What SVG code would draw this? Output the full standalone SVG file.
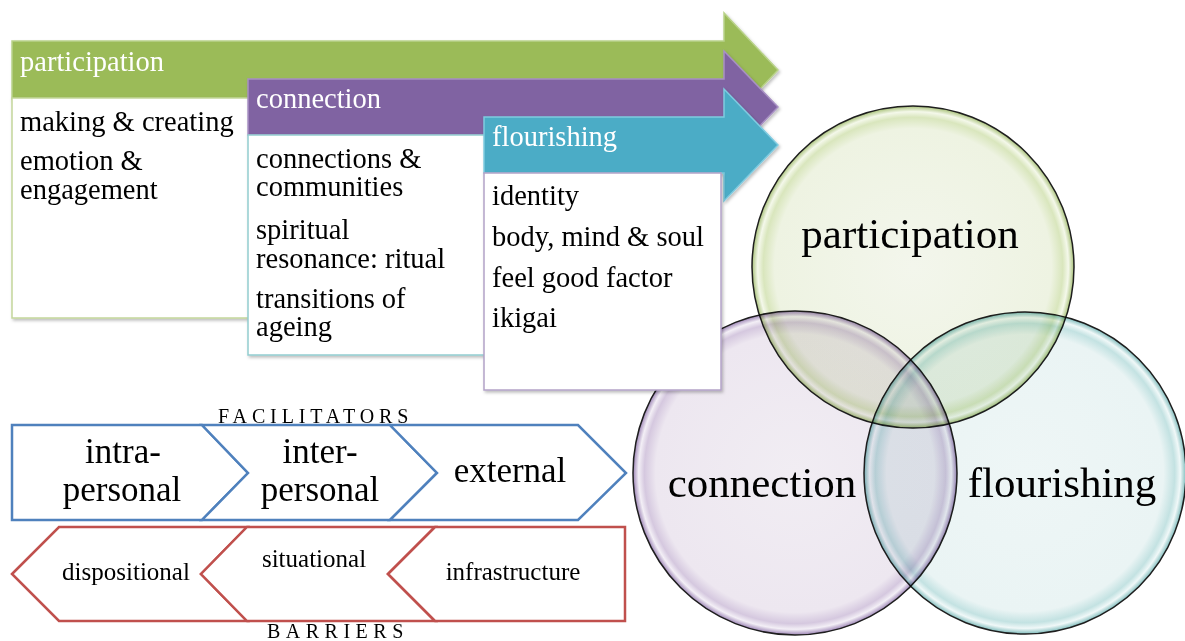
<svg xmlns="http://www.w3.org/2000/svg" width="1185" height="641" viewBox="0 0 1185 641">
<style>
text{font-family:"Liberation Serif","Times New Roman",serif;}
.hd{fill:#ffffff;font-size:28.5px;}
.bd{fill:#000000;font-size:28.5px;}
.vn{fill:#000000;font-size:43px;text-anchor:middle;}
.fc{fill:#000000;font-size:35px;text-anchor:middle;}
.br{fill:#000000;font-size:25px;text-anchor:middle;}
.cap{fill:#000000;font-size:20px;}
.blue{fill:#ffffff;stroke:#4f81bd;stroke-width:2.5;stroke-linejoin:miter;}
.red{fill:#ffffff;stroke:#c0504d;stroke-width:2.5;stroke-linejoin:miter;}
.circ{stroke:#1e1e1e;stroke-width:1.5;mix-blend-mode:multiply;}
.box{fill:#ffffff;stroke-width:1.5;}
</style>
<defs>
<filter id="sh" x="-5%" y="-5%" width="115%" height="115%">
<feDropShadow dx="1.5" dy="2" stdDeviation="1.5" flood-color="#000" flood-opacity="0.25"/>
</filter>
<radialGradient id="gP" cx="0.5" cy="0.5" r="0.5">
<stop offset="0" stop-color="#f3f6ec"/>
<stop offset="0.86" stop-color="#eef3e2"/>
<stop offset="0.93" stop-color="#d9e6bd"/>
<stop offset="0.965" stop-color="#f4f8ea"/>
<stop offset="1" stop-color="#a9c27a"/>
</radialGradient>
<radialGradient id="gC" cx="0.5" cy="0.5" r="0.5">
<stop offset="0" stop-color="#f1edf3"/>
<stop offset="0.86" stop-color="#ede7f0"/>
<stop offset="0.93" stop-color="#d5c8df"/>
<stop offset="0.965" stop-color="#f3eff6"/>
<stop offset="1" stop-color="#9d85b6"/>
</radialGradient>
<radialGradient id="gF" cx="0.5" cy="0.5" r="0.5">
<stop offset="0" stop-color="#eef6f6"/>
<stop offset="0.86" stop-color="#eaf4f4"/>
<stop offset="0.93" stop-color="#c3e2e2"/>
<stop offset="0.965" stop-color="#f0f8f8"/>
<stop offset="1" stop-color="#7fbcbc"/>
</radialGradient>
</defs>
<rect x="0" y="0" width="1185" height="641" fill="#ffffff"/>

<g id="venn">
<g id="venn-participation"><circle class="circ" cx="913" cy="267" r="161" fill="url(#gP)"/></g>
<g id="venn-connection"><circle class="circ" cx="795" cy="473" r="162" fill="url(#gC)"/></g>
<g id="venn-flourishing"><circle class="circ" cx="1025" cy="473" r="161" fill="url(#gF)"/></g>
<text class="vn" x="910" y="248">participation</text>
<text class="vn" x="762" y="497">connection</text>
<text class="vn" x="1062" y="497">flourishing</text>
</g>

<g id="stage-participation">
<polygon filter="url(#sh)" points="12,41 724,41 724,13 778,70 724,127 724,99 12,99" fill="#9bbb59" stroke="#b9d28a" stroke-width="1.5"/>
<rect class="box" filter="url(#sh)" x="12" y="98" width="238" height="220" stroke="#c3d69b"/>
<text class="hd" x="20" y="71">participation</text>
<text class="bd" x="20" y="131">making &amp; creating</text>
<text class="bd" x="20" y="170">emotion &amp;</text>
<text class="bd" x="20" y="199">engagement</text>
</g>

<g id="stage-connection">
<polygon filter="url(#sh)" points="248,79 724,79 724,51 778,107 724,163 724,135 248,135" fill="#8064a2" stroke="#a890c4" stroke-width="1.5"/>
<rect class="box" filter="url(#sh)" x="248" y="135" width="238" height="220" stroke="#92cdd0"/>
<text class="hd" x="256" y="108">connection</text>
<text class="bd" x="256" y="168">connections &amp;</text>
<text class="bd" x="256" y="196">communities</text>
<text class="bd" x="256" y="239">spiritual</text>
<text class="bd" x="256" y="268">resonance: ritual</text>
<text class="bd" x="256" y="308">transitions of</text>
<text class="bd" x="256" y="336">ageing</text>
</g>

<g id="stage-flourishing">
<polygon filter="url(#sh)" points="484,117 724,117 724,89 778,145 724,201 724,173 484,173" fill="#4bacc6" stroke="#7fcbe0" stroke-width="1.5"/>
<rect class="box" filter="url(#sh)" x="484" y="173" width="237" height="217" stroke="#b3a2c7"/>
<text class="hd" x="492" y="146">flourishing</text>
<text class="bd" x="492" y="205">identity</text>
<text class="bd" x="492" y="246">body, mind &amp; soul</text>
<text class="bd" x="492" y="287">feel good factor</text>
<text class="bd" x="492" y="327">ikigai</text>
</g>

<g id="facilitators">
<g id="fac-intra"><polygon class="blue" points="12,425 202,425 248,473 202,520 12,520"/>
<text class="fc" x="123" y="463">intra-</text><text class="fc" x="122" y="501">personal</text></g>
<g id="fac-inter"><polygon class="blue" points="202,425 390,425 437,473 390,520 202,520 248,473"/>
<text class="fc" x="320" y="463">inter-</text><text class="fc" x="320" y="501">personal</text></g>
<g id="fac-external"><polygon class="blue" points="390,425 578,425 626,473 578,520 390,520 437,473"/>
<text class="fc" x="510" y="482">external</text></g>
<text class="cap" x="218" y="423" letter-spacing="4.9">FACILITATORS</text>
</g>

<g id="barriers">
<g id="bar-dispositional"><polygon class="red" points="12,574 59,527 247,527 201,574 247,621 59,621"/>
<text class="br" x="126" y="580">dispositional</text></g>
<g id="bar-situational"><polygon class="red" points="201,574 247,527 435,527 388,574 435,621 247,621"/>
<text class="br" x="314" y="567">situational</text></g>
<g id="bar-infrastructure"><polygon class="red" points="388,574 435,527 625,527 625,621 435,621"/>
<text class="br" x="513" y="580">infrastructure</text></g>
<text class="cap" x="267" y="638" letter-spacing="5.5">BARRIERS</text>
</g>
</svg>
